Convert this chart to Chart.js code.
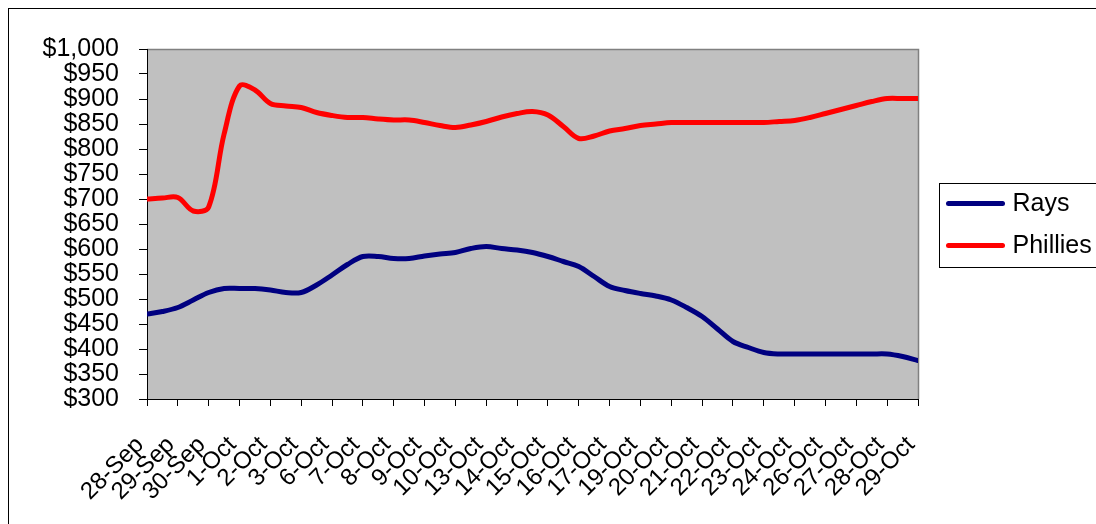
<!DOCTYPE html>
<html><head><meta charset="utf-8">
<script src="https://cdn.jsdelivr.net/npm/chart.js@4"></script>
<style>
html,body{margin:0;padding:0;background:#fff;overflow:hidden;}
#wrap{position:relative;width:1096px;height:524px;overflow:hidden;}
#frame{position:absolute;left:8px;top:8px;width:1200px;height:600px;border:1px solid #000;pointer-events:none;}
canvas{position:absolute;left:0;top:0;}
</style></head>
<body><div id="wrap"><canvas id="c" width="1096" height="524"></canvas><div id="frame"></div></div>
<script>
const dates = ['28-Sep','29-Sep','30-Sep','1-Oct','2-Oct','3-Oct','6-Oct','7-Oct','8-Oct','9-Oct','10-Oct','13-Oct','14-Oct','15-Oct','16-Oct','17-Oct','19-Oct','20-Oct','21-Oct','22-Oct','23-Oct','24-Oct','26-Oct','27-Oct','28-Oct','29-Oct'];
const seriesNames = ['Rays','Phillies'];
// values at half-step points between dated ticks (51 observations)
const rays = [470,475,483,498,513,521,521,521,518,513,513,528,548,569,585,585,581,581,586,590,593,601,605,601,598,593,585,575,565,545,525,517,511,506,498,483,465,440,415,403,393,390,390,390,390,390,390,390,390,385,377];
const phillies = [700,702,703,676,684,830,926,918,891,886,883,873,867,863,863,860,858,858,853,847,843,848,855,864,871,875,868,845,821,826,836,841,847,850,853,853,853,853,853,853,853,855,857,863,871,879,887,895,901,901,901];
const yTicks = {min:300, max:1000, step:50};

const FONT = 'Liberation Sans, Arial, sans-serif';
const FS = 25;
const FSX = 24;
const toXY = arr => arr.map((v,i)=>({x:i, y:v}));

const bgPlugin = {
  id:'plotBg',
  beforeDraw(chart){
    const {ctx, chartArea:a} = chart;
    ctx.save();
    ctx.fillStyle='#C0C0C0';
    ctx.fillRect(a.left,a.top,a.right-a.left,a.bottom-a.top);
    ctx.strokeStyle='#808080'; ctx.lineWidth=1.5;
    ctx.beginPath(); ctx.moveTo(a.left,a.top+0.5); ctx.lineTo(a.right+0.5,a.top+0.5); ctx.lineTo(a.right+0.5,a.bottom); ctx.stroke();
    ctx.restore();
  }
};
const legendPlugin = {
  id:'boxLegend',
  afterDraw(chart){
    const ctx = chart.ctx;
    const x=939.5, y=183.5, w=170, h=84;
    ctx.save();
    ctx.fillStyle='#fff'; ctx.fillRect(x,y,w,h);
    ctx.strokeStyle='#000'; ctx.lineWidth=1; ctx.strokeRect(x,y,w,h);
    chart.data.datasets.forEach((ds,i)=>{
      const cy = y + 20 + i*42;
      ctx.strokeStyle = ds.borderColor; ctx.lineWidth=5; ctx.lineCap='round';
      ctx.beginPath(); ctx.moveTo(x+9,cy); ctx.lineTo(x+63,cy); ctx.stroke();
      ctx.fillStyle='#000'; ctx.font=FS+'px '+FONT; ctx.textBaseline='middle'; ctx.textAlign='left';
      ctx.fillText(ds.label, x+73, cy+1);
    });
    ctx.restore();
  }
};

new Chart(document.getElementById('c'), {
  type:'line',
  data:{ datasets:[
    {label:seriesNames[0], data:toXY(rays), borderColor:'#000080', borderWidth:5, pointRadius:0, tension:0.35, borderCapStyle:'round', borderJoinStyle:'round', fill:false},
    {label:seriesNames[1], data:toXY(phillies), borderColor:'#FF0000', borderWidth:5, pointRadius:0, tension:0.35, borderCapStyle:'round', borderJoinStyle:'round', fill:false}
  ]},
  options:{
    responsive:false, animation:false, devicePixelRatio:1,
    layout:{ padding:{ top:49, right:178, left:0, bottom:0 } },
    plugins:{ legend:{display:false}, tooltip:{enabled:false} },
    scales:{
      x:{ type:'linear', min:0, max:(dates.length-1)*2,
        ticks:{ stepSize:2, autoSkip:false, minRotation:45, maxRotation:45, color:'#000', font:{family:FONT,size:FSX}, padding:25, labelOffset:-7,
          callback:v=>dates[v/2] },
        grid:{ drawOnChartArea:false, tickLength:7, color:'#000', lineWidth:1 },
        border:{ color:'#000', width:1 },
        afterFit(s){ s.height = 125; }
      },
      y:{ min:yTicks.min, max:yTicks.max,
        ticks:{ stepSize:yTicks.step, autoSkip:false, color:'#000', font:{family:FONT,size:FS}, padding:20,
          callback:v=>'$'+v.toLocaleString('en-US') },
        grid:{ drawOnChartArea:false, tickLength:8, color:'#000', lineWidth:1 },
        border:{ color:'#000', width:1 },
        afterFit(s){ s.width = 147; }
      }
    }
  },
  plugins:[bgPlugin, legendPlugin]
});
</script>
</body></html>
